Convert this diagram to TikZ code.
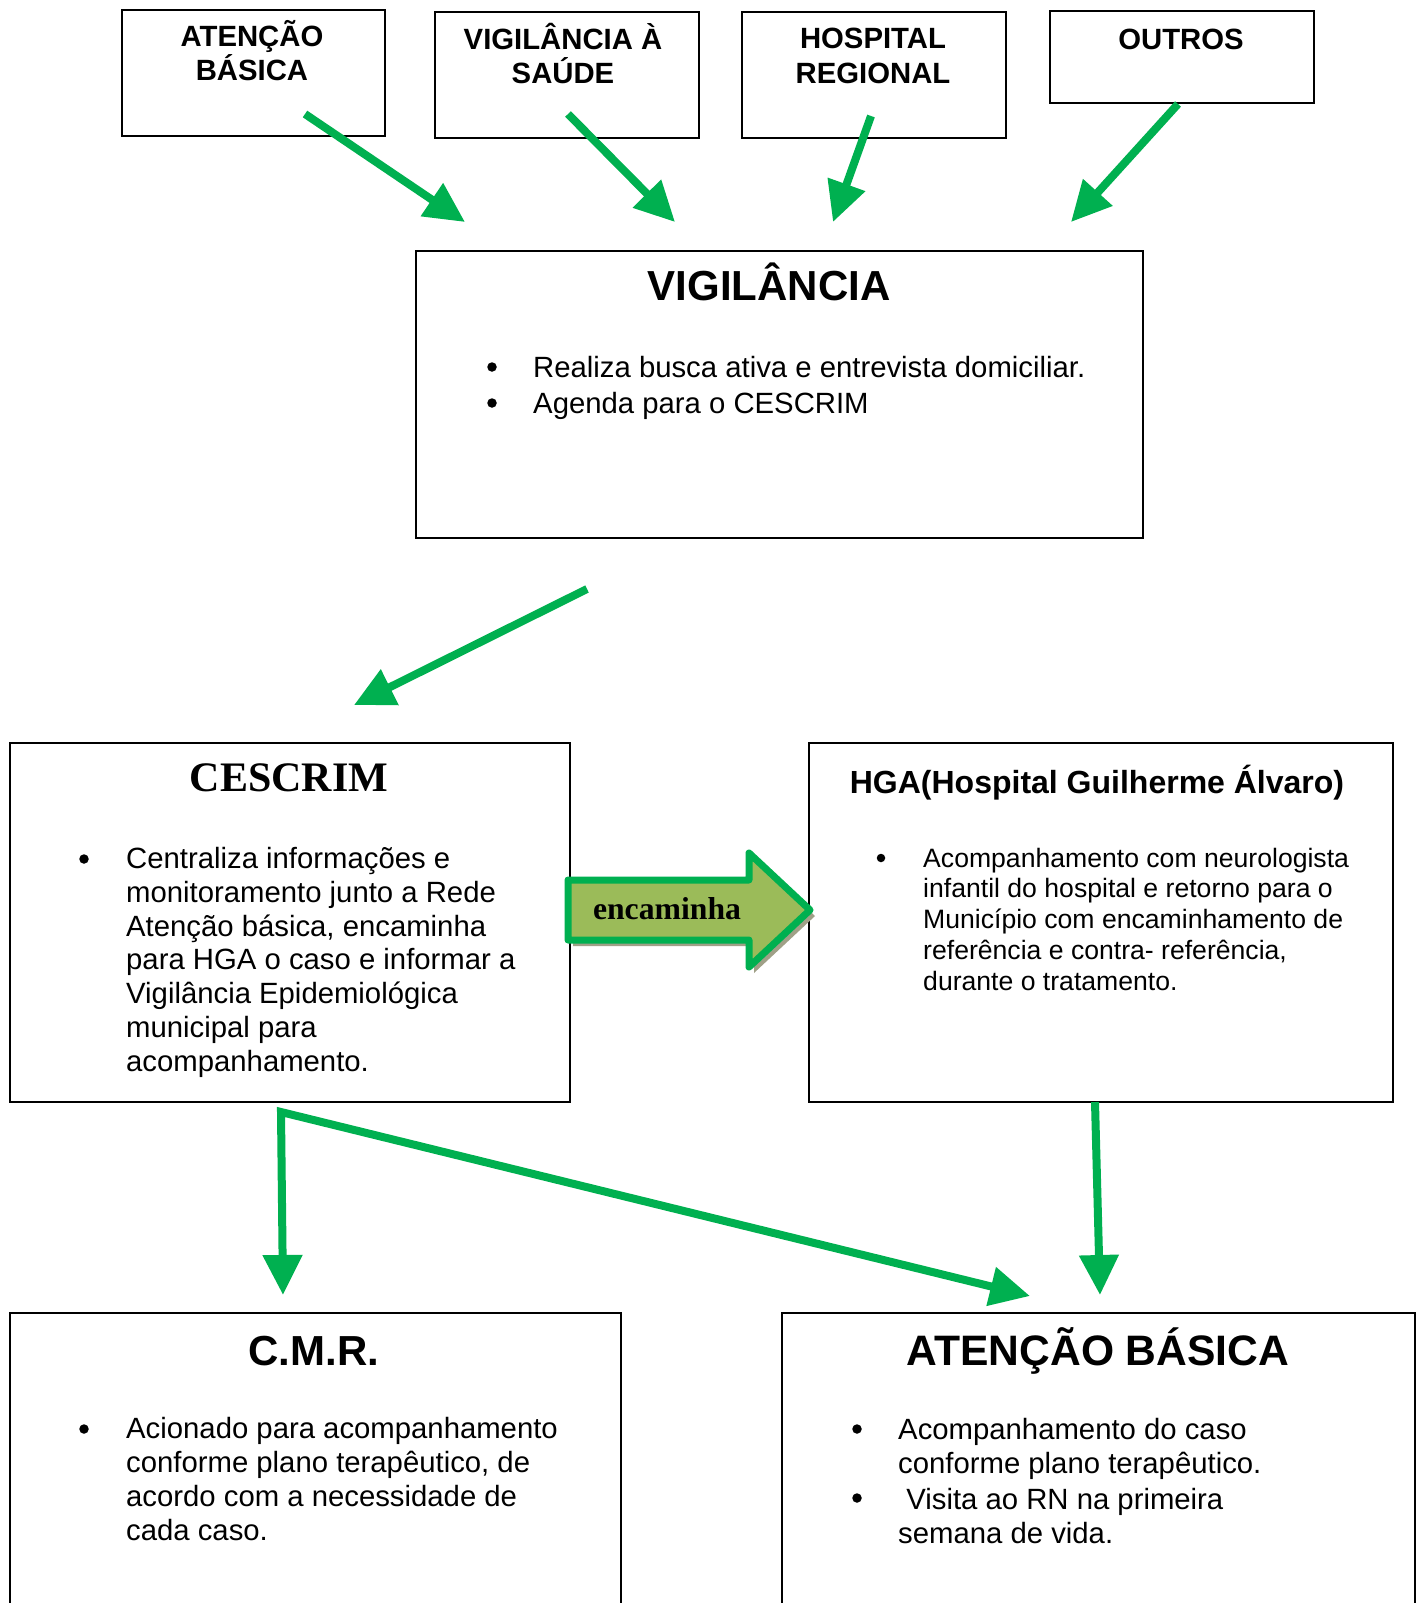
\documentclass[tikz,border=0pt]{standalone}
\usepackage{fontspec}
\setmainfont{Liberation Sans}
\newfontfamily\timesfont{Liberation Serif}
\usetikzlibrary{arrows.meta}

\definecolor{flowgreen}{RGB}{0,176,80}
\definecolor{olivefill}{RGB}{155,187,89}
\definecolor{shadowgray}{RGB}{160,160,135}

\newcommand\boxtextfont{\bfseries\fontsize{29.3}{34.5}\selectfont}
\newcommand\titlefont{\bfseries\fontsize{42}{48}\selectfont}
\newcommand\listfont{\fontsize{29.3}{33.7}\selectfont}
\newcommand\smalllistfont{\fontsize{26.6}{30.7}\selectfont}

\tikzset{
  box/.style={draw, line width=1.8pt, anchor=north west, inner sep=0pt},
  flow/.style={draw=flowgreen, line width=8pt, line join=miter,
    -{Triangle[length=40pt,width=38pt]}},
  toplabel/.style={font=\boxtextfont, align=center, anchor=base, inner sep=0pt},
  heading/.style={font=\titlefont, anchor=base, inner sep=0pt},
  bullet/.style={circle, fill, inner sep=0pt, minimum size=9.5pt},
  item/.style={font=\listfont, align=left, anchor=base west, inner sep=0pt}
}

\begin{document}
\begin{tikzpicture}[x=1pt, y=-1pt]
  \useasboundingbox (0,0) rectangle (1421,1603);
  \clip (0,0) rectangle (1421,1603);
  \fill[white] (0,0) rectangle (1421,1603);

  %source boxes (labels placed by their last baseline)
  \node[box, minimum width=263pt, minimum height=126pt] (atbas) at (121,9) {};
  \node[box, minimum width=264pt, minimum height=126pt] (vigsau) at (434,11) {};
  \node[box, minimum width=264pt, minimum height=126pt] (hosreg) at (741,11) {};
  \node[box, minimum width=264pt, minimum height=92pt] (outros) at (1049,10) {};
  \node[toplabel] (atbas-t) at (252,81) {ATENÇÃO\\BÁSICA};
  \node[toplabel] (vigsau-t) at (563,84) {VIGILÂNCIA À\\SAÚDE};
  \node[toplabel] (hosreg-t) at (873,83) {HOSPITAL\\REGIONAL};
  \node[toplabel] (outros-t) at (1181,49) {OUTROS};

  %vigilancia
  \node[box, minimum width=727pt, minimum height=287pt] (vig) at (415,250) {};
  \node[heading] (vig-t) at (769,300) {VIGILÂNCIA};
  \node[bullet] (vig-b1) at (492,367) {};
  \node[item] (vig-i1) at (533,377) {Realiza busca ativa e entrevista domiciliar.};
  \node[bullet] (vig-b2) at (492,403) {};
  \node[item] (vig-i2) at (533,413) {Agenda para o CESCRIM};

  %cescrim
  \node[box, minimum width=560pt, minimum height=359pt] (ces) at (9,742) {};
  \node[heading, font=\timesfont\titlefont] (ces-t) at (289,791) {CESCRIM};
  \node[bullet] (ces-b1) at (84,859) {};
  \node[item] (ces-i1) at (126,1071) {Centraliza informações e\\monitoramento junto a Rede\\Atenção básica, encaminha\\para HGA o caso e informar a\\Vigilância Epidemiológica\\municipal para\\acompanhamento.};

  %hga
  \node[box, minimum width=584pt, minimum height=359pt] (hga) at (808,742) {};
  \node[heading, font=\bfseries\fontsize{32}{37}\selectfont] (hga-t) at (1097,793) {HGA(Hospital Guilherme Álvaro)};
  \node[bullet, minimum size=8.5pt] (hga-b1) at (881,858) {};
  \node[item, font=\smalllistfont] (hga-i1) at (923,990) {Acompanhamento com neurologista\\infantil do hospital e retorno para o\\Município com encaminhamento de\\referência e contra- referência,\\durante o tratamento.};

  %cmr
  \node[box, minimum width=611pt, minimum height=298pt] (cmr) at (9,1312) {};
  \node[heading] (cmr-t) at (314,1365) {C.M.R.};
  \node[bullet] (cmr-b1) at (84,1429) {};
  \node[item] (cmr-i1) at (126,1540) {Acionado para acompanhamento\\conforme plano terapêutico, de\\acordo com a necessidade de\\cada caso.};

  %atencao basica
  \node[box, minimum width=633pt, minimum height=298pt] (abas) at (781,1312) {};
  \node[heading, font=\bfseries\fontsize{42.6}{48}\selectfont] (abas-t) at (1098,1365) {ATENÇÃO BÁSICA};
  \node[bullet] (abas-b1) at (857,1429) {};
  \node[item] (abas-i1) at (898,1473) {Acompanhamento do caso\\conforme plano terapêutico.};
  \node[bullet] (abas-b2) at (857,1498) {};
  \node[item] (abas-i2) at (898,1543) {\ Visita ao RN na primeira\\semana de vida.};

  %encaminha arrow
  \fill[shadowgray] (573,886) -- (754,886) -- (754,859) -- (815,916) -- (754,973) -- (754,946) -- (573,946) -- cycle;
  \filldraw[fill=olivefill, draw=flowgreen, line width=7pt, line join=round]
    (568,880) -- (749,880) -- (749,853) -- (810,910) -- (749,967) -- (749,940) -- (568,940) -- cycle;
  \node[font=\timesfont\bfseries\fontsize{31.7}{36}\selectfont, anchor=base, inner sep=0pt] (enc) at (667,919) {encaminha};

  %connector ends
  \coordinate (atbas-s) at (305,114);
  \coordinate (vigsau-s) at (568,114);
  \coordinate (hosreg-s) at (871,116);
  \coordinate (outros-s) at (1178,104);
  \coordinate (vig-n1) at (465,222);
  \coordinate (vig-n2) at (675,222);
  \coordinate (vig-n3) at (833,222);
  \coordinate (vig-n4) at (1071,222);
  \coordinate (vig-s) at (587,589);
  \coordinate (ces-n) at (354,705);
  \coordinate (ces-s) at (281,1112);
  \coordinate (cmr-n) at (283,1295);
  \coordinate (abas-n1) at (1030,1296);
  \coordinate (hga-s) at (1095,1102);
  \coordinate (abas-n2) at (1100,1295);

  %arrows
  \draw[flow] (atbas-s) -- (vig-n1);
  \draw[flow] (vigsau-s) -- (vig-n2);
  \draw[flow] (hosreg-s) -- (vig-n3);
  \draw[flow] (outros-s) -- (vig-n4);
  \draw[flow] (vig-s) -- (ces-n);
  \draw[flow, {Triangle[length=40pt,width=38pt]}-{Triangle[length=40pt,width=38pt]}] (cmr-n) -- (ces-s) -- (abas-n1);
  \draw[flow] (hga-s) -- (abas-n2);
\end{tikzpicture}
\end{document}
